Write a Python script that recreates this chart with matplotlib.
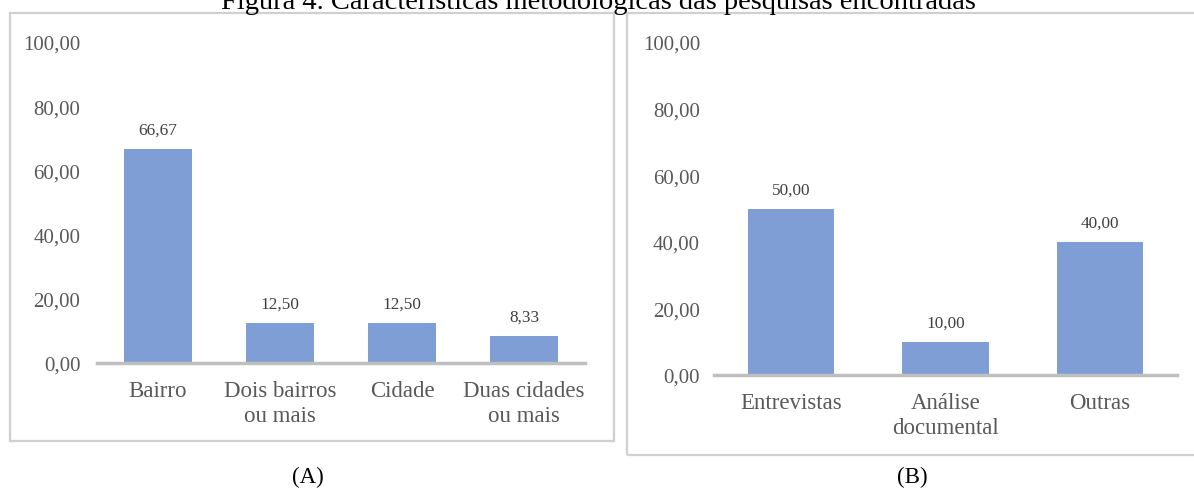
import matplotlib
matplotlib.use("Agg")
import matplotlib.pyplot as plt
from matplotlib.patches import Rectangle

plt.rcParams['font.family'] = ['Liberation Serif', 'DejaVu Serif']

title = "Figura 4. Características metodológicas das pesquisas encontradas"

cats_a = ["Bairro", "Dois bairros\nou mais", "Cidade", "Duas cidades\nou mais"]
vals_a = [66.67, 12.50, 12.50, 8.33]
cats_b = ["Entrevistas", "Análise\ndocumental", "Outras"]
vals_b = [50.00, 10.00, 40.00]
yticks = [0, 20, 40, 60, 80, 100]
captions = ["(A)", "(B)"]

W, H = 1194, 489
fig = plt.figure(figsize=(W / 100, H / 100), dpi=100)

bar_color = '#7f9ed6'
grey_txt = '#595959'
axis_grey = '#bfbfbf'


def fmt(v):
    return f"{v:.2f}".replace('.', ',')


def px_axes(x0, x1, y0, y1):
    return fig.add_axes([x0 / W, 1 - y1 / H, (x1 - x0) / W, (y1 - y0) / H])


def draw(ax, cats, vals, tick_pad, lab_pad, lsp):
    x = list(range(len(cats)))
    ax.bar(x, vals, width=0.56, color=bar_color, zorder=2)
    ax.set_xlim(-0.5, len(cats) - 0.5)
    ax.set_ylim(0, 100)
    ax.set_yticks(yticks)
    ax.set_yticklabels([fmt(t) for t in yticks], color=grey_txt, fontsize=15)
    ax.set_xticks(x)
    ax.set_xticklabels(cats, color=grey_txt, fontsize=16.5, linespacing=lsp)
    ax.tick_params(axis='both', length=0)
    ax.tick_params(axis='y', pad=tick_pad)
    ax.tick_params(axis='x', pad=lab_pad)
    for s in ['top', 'right', 'left']:
        ax.spines[s].set_visible(False)
    ax.spines['bottom'].set_color(axis_grey)
    ax.spines['bottom'].set_linewidth(2.5)
    ax.spines['bottom'].set_zorder(3)
    ax.patch.set_alpha(0)
    for xi, v in zip(x, vals):
        ax.annotate(fmt(v), (xi, v), xytext=(0, 13.8), textcoords='offset points',
                    ha='center', va='center', fontsize=12.4, color='#404040')


# panel frames
fig.patches.append(Rectangle((10 / W, 1 - 442 / H), (614 - 10) / W, (442 - 14) / H,
                             transform=fig.transFigure, fill=False,
                             edgecolor='#d0d0d0', linewidth=1.6))
fig.patches.append(Rectangle((627 / W, 1 - 456 / H), (1210 - 627) / W, (456 - 14) / H,
                             transform=fig.transFigure, fill=False,
                             edgecolor='#d0d0d0', linewidth=1.6))

axA = px_axes(97, 585, 43, 364)
draw(axA, cats_a, vals_a, 12, 12.5, 1.2)
axB = px_axes(714, 1177, 43, 376)
draw(axB, cats_b, vals_b, 10, 12.5, 1.2)

fig.text(598 / W, 1 - 9 / H, title, ha='center', va='baseline', fontsize=20.5, color='black')
fig.text(308 / W, 1 - 483 / H, captions[0], ha='center', va='baseline', fontsize=16.5, color='black')
fig.text(912 / W, 1 - 483 / H, captions[1], ha='center', va='baseline', fontsize=16.5, color='black')

fig.savefig("out.png", dpi=100)
